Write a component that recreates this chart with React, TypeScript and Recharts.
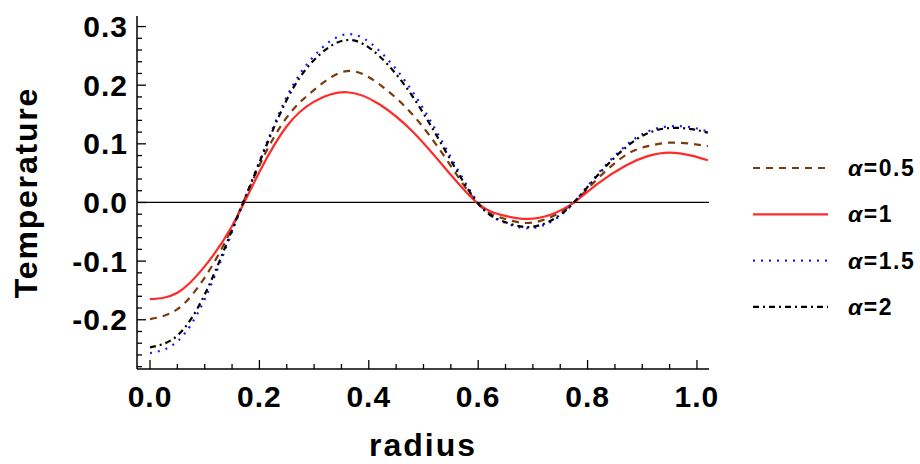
import React from "react";
import { LineChart, Line, XAxis, YAxis, ReferenceLine, Legend } from "recharts";

// radius samples and temperature curves
const radius = [0, 0.05, 0.1, 0.15, 0.2, 0.25, 0.3, 0.36, 0.42, 0.48, 0.54, 0.6, 0.645, 0.69, 0.735, 0.775, 0.82, 0.87, 0.91, 0.95, 0.99, 1.02];
const alpha05 = [-0.199, -0.182, -0.128, -0.043, 0.063, 0.145, 0.192, 0.224, 0.201, 0.15, 0.076, -0.002, -0.027, -0.035, -0.024, 0.0, 0.042, 0.081, 0.096, 0.102, 0.1, 0.096];
const alpha1 = [-0.165, -0.154, -0.109, -0.04, 0.052, 0.13, 0.172, 0.188, 0.167, 0.121, 0.058, -0.002, -0.022, -0.028, -0.02, 0.0, 0.033, 0.063, 0.079, 0.085, 0.08, 0.072];
const alpha15 = [-0.257, -0.237, -0.165, -0.05, 0.07, 0.18, 0.25, 0.287, 0.258, 0.189, 0.094, 0.0, -0.033, -0.044, -0.032, 0.0, 0.05, 0.097, 0.121, 0.13, 0.128, 0.121];
const alpha2 = [-0.247, -0.227, -0.157, -0.047, 0.068, 0.175, 0.243, 0.277, 0.249, 0.181, 0.088, -0.002, -0.032, -0.042, -0.03, 0.0, 0.048, 0.094, 0.118, 0.127, 0.125, 0.119];

const xTicks = [0, 0.05, 0.1, 0.15, 0.2, 0.25, 0.3, 0.35, 0.4, 0.45, 0.5, 0.55, 0.6, 0.65, 0.7, 0.75, 0.8, 0.85, 0.9, 0.95, 1.0];
const xLabels = [0, 0.2, 0.4, 0.6, 0.8, 1.0];
const yTicks = [-0.28, -0.26, -0.24, -0.22, -0.2, -0.18, -0.16, -0.14, -0.12, -0.1, -0.08, -0.06, -0.04, -0.02, 0, 0.02, 0.04, 0.06, 0.08, 0.1, 0.12, 0.14, 0.16, 0.18, 0.2, 0.22, 0.24, 0.26, 0.28, 0.3];
const yLabels = [-0.2, -0.1, 0, 0.1, 0.2, 0.3];

const series = [
  { key: "a05", label: "0.5", values: alpha05, color: "#7a3b0a", dash: "7 6" },
  { key: "a1", label: "1", values: alpha1, color: "#ff2a2a", dash: undefined },
  { key: "a15", label: "1.5", values: alpha15, color: "#1a1aff", dash: "2 6" },
  { key: "a2", label: "2", values: alpha2, color: "#000000", dash: "6 4 2 4" },
];

const data = radius.map((r, i) => {
  const row: any = { radius: r };
  series.forEach((s) => (row[s.key] = s.values[i]));
  return row;
});

const FONT = "'Liberation Sans', Arial, sans-serif";
const isMajor = (v: number, list: number[]) => list.some((l) => Math.abs(l - v) < 1e-9);

const BottomTick = (props: any) => {
  const { x, y, payload } = props;
  const major = isMajor(payload.value, xLabels);
  return (
    <g>
      <line x1={x} x2={x} y1={y} y2={y - (major ? 9 : 5)} stroke="#000" strokeWidth={1.3} />
      {major && (
        <text x={x} y={y + 38} textAnchor="middle" fontFamily={FONT} fontWeight="bold" fontSize={30} letterSpacing={1} fill="#000">
          {payload.value.toFixed(1)}
        </text>
      )}
    </g>
  );
};

const TopTick = (props: any) => {
  const { x, y, payload } = props;
  const major = isMajor(payload.value, xLabels);
  return <line x1={x} x2={x} y1={y} y2={y + (major ? 9 : 5)} stroke="#000" strokeWidth={1.3} />;
};

const LeftTick = (props: any) => {
  const { x, y, payload } = props;
  const major = isMajor(payload.value, yLabels);
  return (
    <g>
      <line x1={x} x2={x + (major ? 9 : 5)} y1={y} y2={y} stroke="#000" strokeWidth={1.3} />
      {major && (
        <text x={x - 9} y={y + 10.5} textAnchor="end" fontFamily={FONT} fontWeight="bold" fontSize={30} letterSpacing={1} fill="#000">
          {payload.value.toFixed(1)}
        </text>
      )}
    </g>
  );
};

const RightTick = (props: any) => {
  const { x, y, payload } = props;
  const major = isMajor(payload.value, yLabels);
  return <line x1={x} x2={x - (major ? 9 : 5)} y1={y} y2={y} stroke="#000" strokeWidth={1.3} />;
};

const LegendBox = () => (
  <svg width={175} height={175}>
    {series.map((s, i) => {
      const cy = 18 + i * 46.3;
      return (
        <g key={s.key}>
          <line x1={8} x2={83} y1={cy} y2={cy} stroke={s.color} strokeWidth={2.2} strokeDasharray={s.dash} />
          <text x={103} y={cy + 8} fontFamily={FONT} fontWeight="bold" fontSize={23} letterSpacing={1.5} fill="#000">
            <tspan fontStyle="italic">α</tspan>={s.label}
          </text>
        </g>
      );
    })}
  </svg>
);

export default function App() {
  return (
    <div style={{ position: "absolute", left: 0, top: 0 }}>
      <LineChart width={920} height={464} data={data} margin={{ top: 16, right: 211, bottom: 0, left: 0 }}>
        <XAxis
          xAxisId="b"
          dataKey="radius"
          type="number"
          domain={[-0.0238, 1.022]}
          allowDataOverflow
          ticks={xTicks}
          interval={0}
          height={95}
          tickSize={0}
          tickMargin={0}
          tickLine={false}
          tick={BottomTick}
          axisLine={{ stroke: "#000", strokeWidth: 1.5 }}
          label={(p: any) => {
            const vb = p.viewBox || { x: 137, y: 369, width: 572 };
            return (
              <text x={vb.x + vb.width / 2} y={vb.y + 87} textAnchor="middle" fontFamily={FONT} fontWeight="bold" fontSize={32} letterSpacing={2} fill="#000">
                radius
              </text>
            );
          }}
        />
        <XAxis
          xAxisId="t"
          orientation="top"
          dataKey="radius"
          type="number"
          domain={[-0.0238, 1.022]}
          allowDataOverflow
          ticks={xTicks}
          interval={0}
          height={0}
          tickSize={0}
          tickMargin={0}
          tickLine={false}
          tick={TopTick}
          axisLine={{ stroke: "#000", strokeWidth: 1.5 }}
        />
        <YAxis
          yAxisId="l"
          type="number"
          domain={[-0.284, 0.318]}
          allowDataOverflow
          ticks={yTicks}
          interval={0}
          width={137}
          tickSize={0}
          tickMargin={0}
          tickLine={false}
          tick={LeftTick}
          axisLine={{ stroke: "#000", strokeWidth: 1.5 }}
          label={(p: any) => {
            const vb = p.viewBox || { y: 16, height: 353 };
            const cy = vb.y + vb.height / 2;
            return (
              <text x={37} y={cy} transform={`rotate(-90 37 ${cy})`} textAnchor="middle" fontFamily={FONT} fontWeight="bold" fontSize={32} letterSpacing={1.8} fill="#000">
                Temperature
              </text>
            );
          }}
        />
        <YAxis
          yAxisId="r"
          orientation="right"
          type="number"
          domain={[-0.284, 0.318]}
          allowDataOverflow
          ticks={yTicks}
          interval={0}
          width={0}
          tickSize={0}
          tickMargin={0}
          tickLine={false}
          tick={RightTick}
          axisLine={{ stroke: "#000", strokeWidth: 1.5 }}
        />
        <ReferenceLine xAxisId="b" yAxisId="l" y={0} stroke="#000" strokeWidth={1.3} />
        {series.map((s) => (
          <Line
            key={s.key}
            xAxisId="b"
            yAxisId="l"
            type="natural"
            dataKey={s.key}
            stroke={s.color}
            strokeWidth={2.2}
            strokeDasharray={s.dash}
            dot={false}
            isAnimationActive={false}
          />
        ))}
        <Legend
          layout="vertical"
          align="center"
          verticalAlign="middle"
          content={LegendBox}
          wrapperStyle={{ position: "absolute", left: 745, top: 150, width: 175, height: 175 }}
        />
      </LineChart>
    </div>
  );
}
